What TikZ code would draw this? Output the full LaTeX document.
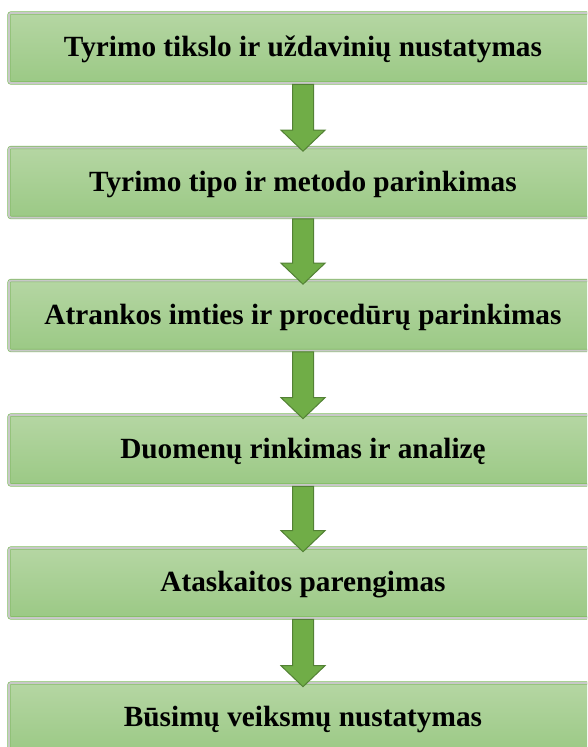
\documentclass[tikz,border=0pt]{standalone}
\usepackage{fontspec}
\setmainfont{Liberation Serif}
\usetikzlibrary{calc}
\definecolor{boxtop}{HTML}{B5D6A3}
\definecolor{boxbot}{HTML}{9BC985}
\definecolor{boxrim}{HTML}{C8C8C8}
\definecolor{boxline}{HTML}{7DBB5C}
\definecolor{arrfill}{HTML}{70AD47}
\definecolor{arrline}{HTML}{538135}
\tikzset{
  stagebox/.style={rectangle, minimum width=588pt, minimum height=70pt, inner sep=0pt,
    top color=boxtop, bottom color=boxbot, draw=boxline, double=boxrim,
    double distance=2pt, line width=0.6pt, rounded corners=2pt,
    font=\fontsize{29.3}{33}\selectfont\bfseries, text height=17pt, text depth=0pt},
  blockarrow/.style={fill=arrfill, draw=arrline, line width=1pt, line join=miter}
}
\newcommand{\stagearrow}[2]{%
  \draw[blockarrow] ($(#1.south)+(-10.5,1)$) -- ($(#2.north)+(-10.5,-17)$)
    -- ($(#2.north)+(-22,-17)$) -- ($(#2.north)+(0,4)$) -- ($(#2.north)+(22,-17)$)
    -- ($(#2.north)+(10.5,-17)$) -- ($(#1.south)+(10.5,1)$) -- cycle;}
\begin{document}
\begin{tikzpicture}[x=1pt,y=-1pt]
\useasboundingbox (0,0) rectangle (587,747);
\clip (0,0) rectangle (587,747);
\node[stagebox] (b1) at (303,48) {Tyrimo tikslo ir uždavinių nustatymas};
\node[stagebox] (b2) at (303,182.5) {Tyrimo tipo ir metodo parinkimas};
\node[stagebox] (b3) at (303,315.5) {Atrankos imties ir procedūrų parinkimas};
\node[stagebox] (b4) at (303,450) {Duomenų rinkimas ir analizę};
\node[stagebox] (b5) at (303,583) {Ataskaitos parengimas};
\node[stagebox] (b6) at (303,718) {Būsimų veiksmų nustatymas};
\stagearrow{b1}{b2}
\stagearrow{b2}{b3}
\stagearrow{b3}{b4}
\stagearrow{b4}{b5}
\stagearrow{b5}{b6}
\end{tikzpicture}
\end{document}
